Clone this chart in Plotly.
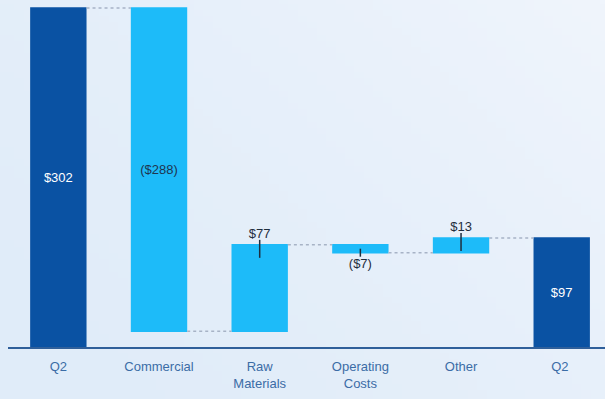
import base64
import struct
import zlib

import plotly.graph_objects as go

# Bridge from opening to closing quarter (in $)
categories = ["Q2", "Commercial", "Raw<br>Materials", "Operating<br>Costs", "Other", "Q2 "]
values = [302, -288, 77, -7, 13, 97]
measures = ["absolute", "relative", "relative", "relative", "relative", "total"]


def fmt(v):
    return f"(${abs(v)})" if v < 0 else f"${v}"


labels = [fmt(v) for v in values]

DARK = "#0A52A3"
LIGHT = "#1DBBF9"
FONT = "Liberation Sans Narrow, Arial Narrow, Liberation Sans, Arial, sans-serif"
TXT = "#1F2D3D"


def gradient_png(w=64, h=64, c0=(0xE0, 0xEC, 0xF9), c1=(0xF0, 0xF5, 0xFC)):
    """Diagonal soft gradient (bottom-left -> top-right) as a PNG data URI."""
    rows = b""
    for j in range(h):
        row = b"\x00"
        for i in range(w):
            t = (i / (w - 1)) * 0.6 + (1 - j / (h - 1)) * 0.4
            t = max(0.0, min(1.0, t)) ** 1.5
            row += bytes(int(a + (b - a) * t) for a, b in zip(c0, c1))
        rows += row

    def chunk(tag, data):
        c = struct.pack(">I", len(data)) + tag + data
        return c + struct.pack(">I", zlib.crc32(tag + data) & 0xFFFFFFFF)

    png = b"\x89PNG\r\n\x1a\n"
    png += chunk(b"IHDR", struct.pack(">IIBBBBB", w, h, 8, 2, 0, 0, 0))
    png += chunk(b"IDAT", zlib.compress(rows))
    png += chunk(b"IEND", b"")
    return "data:image/png;base64," + base64.b64encode(png).decode()


fig = go.Figure()
fig.add_trace(go.Waterfall(
    x=categories,
    y=values,
    measure=measures,
    text=labels,
    textposition=["inside", "inside", "outside", "outside", "outside", "inside"],
    insidetextanchor="middle",
    textfont=dict(family=FONT, size=13, color=TXT),
    insidetextfont=dict(family=FONT, size=13,
                        color=["white", "#1F3550", TXT, TXT, TXT, "white"]),
    outsidetextfont=dict(family=FONT, size=13, color=TXT),
    cliponaxis=False,
    totals=dict(marker=dict(color=DARK)),
    increasing=dict(marker=dict(color=LIGHT)),
    decreasing=dict(marker=dict(color=LIGHT)),
    connector=dict(line=dict(color="#A7B3C6", width=1.5, dash="dot")),
    hoverinfo="skip",
))

# running start/end of each bar
running = []
tot = 0
for v, m in zip(values, measures):
    if m in ("absolute", "total"):
        start, tot = 0, v
    else:
        start, tot = tot, tot + v
    running.append((start, tot))

# short leader ticks where the label sits outside the bar
shapes = []
for i, (v, (start, end)) in enumerate(zip(values, running)):
    if measures[i] != "relative" or i == 1:
        continue
    y0, y1 = (-13, 5) if v > 0 else (-4, 4)
    shapes.append(dict(
        type="line", xref="x", yref="y", x0=categories[i], x1=categories[i],
        ysizemode="pixel", yanchor=end, y0=y0, y1=y1,
        line=dict(color=TXT, width=1.5),
    ))

W, H = 605, 399
ML, MB = 8, 52
pw, ph = W - ML, H - MB

fig.update_layout(
    width=W, height=H,
    margin=dict(l=ML, r=0, t=0, b=MB),
    paper_bgcolor="#E4EFFA",
    plot_bgcolor="rgba(0,0,0,0)",
    showlegend=False,
    waterfallgap=0.44,
    shapes=shapes,
    images=[dict(
        source=gradient_png(), xref="paper", yref="paper",
        x=-ML / pw, y=1, sizex=W / pw, sizey=H / ph,
        xanchor="left", yanchor="top", sizing="stretch", layer="below",
    )],
    font=dict(family=FONT),
    xaxis=dict(
        range=[-0.5, 5.43],
        showgrid=False, zeroline=False,
        showline=True, linecolor="#2F5F9A", linewidth=1.5,
        ticks="", ticklabelstandoff=7,
        tickfont=dict(family=FONT, size=13, color="#3B6CA6"),
        fixedrange=True,
    ),
    yaxis=dict(
        range=[0, 309.1],
        visible=False, showgrid=False, zeroline=False,
        fixedrange=True,
    ),
)

fig.write_html("out.html")
